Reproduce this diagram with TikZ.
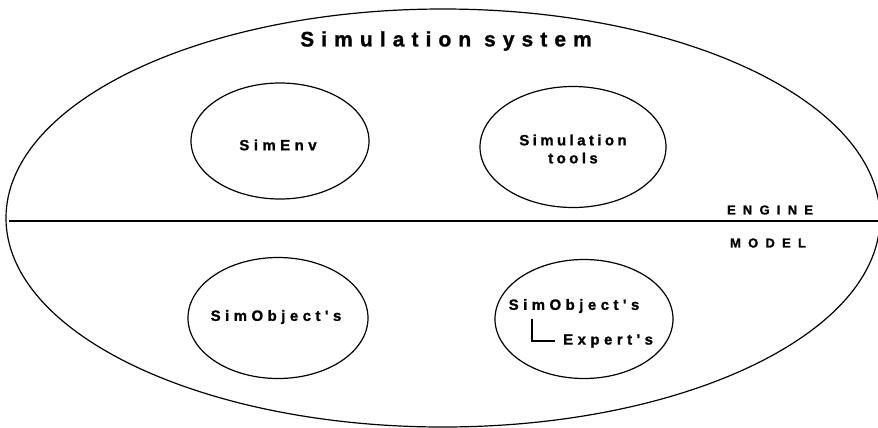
\documentclass[tikz,border=0pt]{standalone}
\usepackage{fontspec}
\setmainfont{Liberation Sans}
\newfontfamily\titlefont{Liberation Sans Bold}[LetterSpace=34, FakeBold=1.2]
\newfontfamily\labfont{Liberation Sans Bold}[LetterSpace=30, FakeBold=1.2]
\newfontfamily\toolsfont{Liberation Sans Bold}[LetterSpace=23, FakeBold=1.2]
\newfontfamily\sidefont{Liberation Sans Bold}[LetterSpace=56, FakeBold=1.2]
\usetikzlibrary{shapes.geometric}
\begin{document}
\begin{tikzpicture}[x=1bp,y=-1bp,
  oval/.style={draw, ellipse, line width=1.2bp, inner sep=0pt},
  lab/.style={font=\labfont\fontsize{15}{20}\selectfont, inner sep=0pt, anchor=center},
  tl/.style={font=\toolsfont\fontsize{15}{20}\selectfont, inner sep=0pt},
  side/.style={font=\sidefont\fontsize{13}{15}\selectfont, inner sep=0pt},
]
\useasboundingbox (0,0) rectangle (878,427);
% outer system ellipse
\node[oval, minimum width=874bp, minimum height=418bp] (sys) at (443,218) {};
\node[font=\titlefont\fontsize{21}{24}\selectfont, inner sep=0pt] (title) at (446,41) {Simulation system};
% engine / model divider
\coordinate (divL) at (9,221);
\coordinate (divR) at (878,221);
\draw[line width=2bp] (divL) -- (divR);
\node[side] (engine) at (770,210) {ENGINE};
\node[side] (model) at (768,243) {MODEL};
% inner ellipses
\node[oval, minimum width=178bp, minimum height=116bp] (simenv) at (280,141) {};
\node[lab] (simenvt) at (278,145) {SimEnv};
\node[oval, minimum width=186bp, minimum height=121bp] (tools) at (573,147) {};
\node[tl] (toolst1) at (573,140) {Simulation};
\node[tl] (toolst2) at (573,158) {tools};
\node[oval, minimum width=180bp, minimum height=121bp] (objL) at (278,318) {};
\node[lab] (objLt) at (276,317) {SimObject's};
\node[oval, minimum width=178bp, minimum height=119bp] (objR) at (584,319) {};
\node[lab] (objRt) at (574,306) {SimObject's};
\node[lab, anchor=west] (expert) at (563,341) {Expert's};
\coordinate (ltop) at (532,319);
\draw[line width=1.2bp] (ltop) |- ([xshift=-8bp]expert.west);
\end{tikzpicture}
\end{document}
